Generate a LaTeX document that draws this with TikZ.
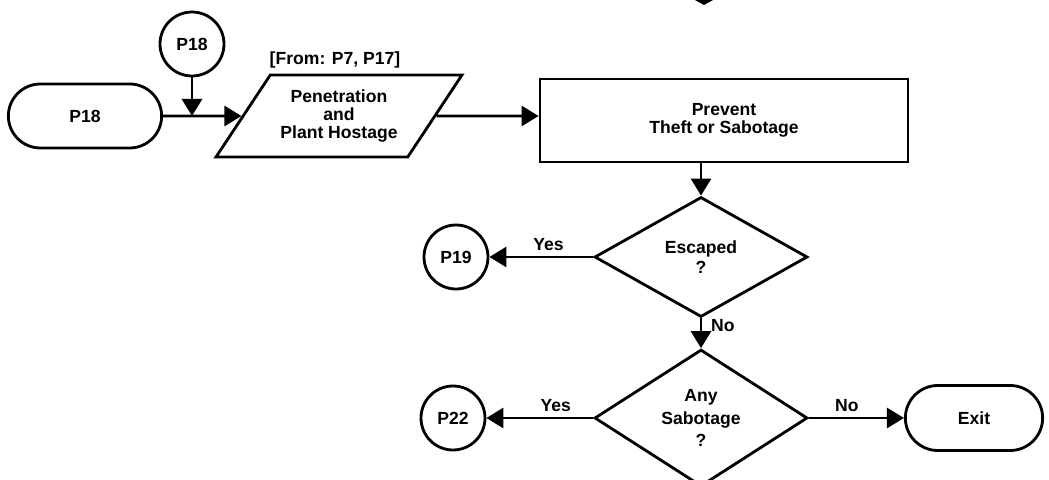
\documentclass[tikz,border=0pt]{standalone}
\usepackage{fontspec}
\setmainfont{Liberation Sans}
\usepackage{tikz}
\usetikzlibrary{arrows,arrows.meta,shapes,positioning,calc}

\begin{document}
\begin{tikzpicture}[>={Triangle[length=0.34cm,width=0.4cm]},line width=1.6pt,
    font=\bfseries\fontsize{10}{10}\selectfont]
  \useasboundingbox (0,0) rectangle (20.98,9.58);
  \tikzstyle{Term}=[draw, rounded rectangle, minimum width=3.3cm, minimum height=1.28cm]
  \tikzstyle{Conn}=[draw, circle, minimum size=1.28cm, inner sep=0pt]
  \tikzstyle{Proc}=[draw, rectangle, minimum width=7.36cm, minimum height=1.66cm, align=center]
  \tikzstyle{Input}=[draw, trapezium, trapezium left angle=49.4, trapezium right angle=130.6,
    trapezium stretches body, minimum width=4.92cm, minimum height=1.64cm, align=center]
  \tikzstyle{Decide}=[draw, diamond, minimum width=4.26cm, minimum height=2.4cm,
    inner sep=0pt, align=center]
  \tikzstyle{Lbl}=[inner sep=3pt]

  \node[Term] (P18a) at (1.70,7.26) {P18};
  \node[Conn] (P18b) at (3.84,8.70) {P18};
  \node (From) at (6.70,8.38) {[From: P7, P17]};
  \node[Input] (Pen) at (6.78,7.26) {Penetration\\and\\Plant Hostage};
  \node[Proc] (Prev) at (14.48,7.17) {Prevent\\Theft or Sabotage};
  \node[Decide] (Esc) at (14.02,4.44) {Escaped\\[1pt]?};
  \node[Conn] (P19) at (9.12,4.44) {P19};
  \node[Decide] (Sab) at (14.02,1.22) {Any\\[3pt]Sabotage\\[3pt]?};
  \node[Conn] (P22) at (9.06,1.22) {P22};
  \node[Term, minimum width=2.98cm, minimum height=1.3cm] (Exit) at (19.48,1.22) {Exit};
  \coordinate (J) at (P18b |- P18a);

  % flow
  \draw[->] (P18a) -- (Pen);
  \draw[->] (P18b) -- (J);
  \draw[->] (Pen) -- (Pen -| Prev.west);
  \draw[->] (Esc.north |- Prev.south) -- (Esc.north);
  \draw[->] (Esc) -- node[Lbl, above, pos=0.43] {Yes} (P19);
  \draw[->] (Esc) -- node[Lbl, right, pos=0.25, xshift=2pt] {No} (Sab);
  \draw[->] (Sab) -- node[Lbl, above, pos=0.35] {Yes} (P22);
  \draw[->] (Sab) -- node[Lbl, above, pos=0.4] {No} (Exit);

  % cut arrow tip at the top edge
  \fill (13.90,9.58) -- (14.26,9.58) -- (14.08,9.48) -- cycle;
\end{tikzpicture}
\end{document}
